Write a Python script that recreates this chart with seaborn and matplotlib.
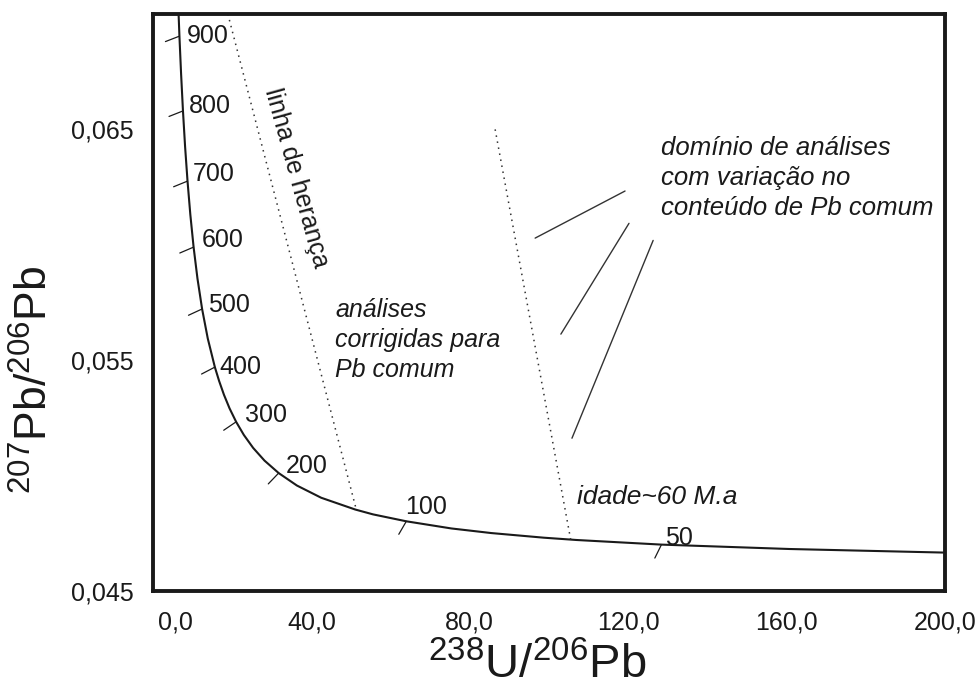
import numpy as np
import pandas as pd
import matplotlib
matplotlib.use("Agg")
import matplotlib.pyplot as plt
import matplotlib.transforms as mtrans
import seaborn as sns

# Concordia curve (Tera-Wasserburg): age (Ma), 238U/206Pb, 207Pb/206Pb
curve_age = [950, 900, 850, 800, 750, 700, 650, 600, 550, 500, 450, 400, 375,
             350, 325, 300, 275, 250, 225, 200, 175, 150, 125, 115, 100, 85,
             75, 65, 60, 50, 40, 32, 30]
curve_u238_pb206 = [6.298, 6.674, 7.095, 7.568, 8.105, 8.718, 9.426, 10.252,
                    11.228, 12.399, 13.831, 15.621, 16.695, 17.923, 19.339,
                    20.992, 22.945, 25.289, 28.154, 31.735, 36.339, 42.477,
                    51.073, 55.557, 63.970, 75.341, 85.450, 98.677, 106.94,
                    128.40, 160.66, 200.95, 214.38]
curve_pb207_pb206 = [0.07074, 0.06904, 0.06740, 0.06580, 0.06425, 0.06276,
                     0.06131, 0.05990, 0.05854, 0.05722, 0.05594, 0.05470,
                     0.05410, 0.05350, 0.05291, 0.05233, 0.05176, 0.05120,
                     0.05065, 0.05011, 0.04957, 0.04904, 0.04853, 0.04832,
                     0.04802, 0.04771, 0.04751, 0.04731, 0.04721, 0.04701,
                     0.04682, 0.04666, 0.04662]

# Labelled ages on the concordia
tick_ages = [900, 800, 700, 600, 500, 400, 300, 200, 100, 50]

# Inheritance line and ~60 Ma line (dotted)
heranca_x = [18.9, 51.3]
heranca_y = [0.0700, 0.04855]
idade_x = [86.4, 105.5]
idade_y = [0.0650, 0.0472]

# Analyses with variable common-Pb content
dominio_x = [[96.5, 119.2], [103.0, 120.2], [105.8, 126.3]]
dominio_y = [[0.06029, 0.06233], [0.05613, 0.06093], [0.05162, 0.06019]]

x_ticks = [0, 40, 80, 120, 160, 200]
x_tick_labels = ["0,0", "40,0", "80,0", "120,0", "160,0", "200,0"]
y_ticks = [0.045, 0.055, 0.065]
y_tick_labels = ["0,045", "0,055", "0,065"]

# label offsets (pixels) relative to the age point
label_offsets = {900: (7, 0), 800: (6, 5), 700: (5, 7), 600: (8, 7),
                 500: (6, 4), 400: (5, 0), 300: (9, 7), 200: (7, 7),
                 100: (-1, 14), 50: (4, 7)}

sns.set_theme(style="white")
plt.rcParams["font.family"] = ["Liberation Sans", "DejaVu Sans"]
plt.rcParams["mathtext.fontset"] = "custom"
plt.rcParams["mathtext.rm"] = "Liberation Sans"
plt.rcParams["mathtext.it"] = "Liberation Sans:italic"
plt.rcParams["mathtext.default"] = "regular"

INK = "#1a1a1a"
fig = plt.figure(figsize=(9.8, 6.89), dpi=100)
ax = fig.add_axes([153 / 980, 1 - 591 / 689, 792 / 980, 577 / 689])
ax.set_xlim(0, 200)
ax.set_ylim(0.045, 0.070)

curve = pd.DataFrame({"age": curve_age, "x": curve_u238_pb206, "y": curve_pb207_pb206})
sns.lineplot(data=curve, x="x", y="y", sort=False, estimator=None,
             color=INK, lw=1.5, ax=ax)

# age ticks and labels
disp = ax.transData
pts = disp.transform(np.column_stack([curve["x"], curve["y"]]))
ref = np.array([np.cos(np.radians(-140)), np.sin(np.radians(-140))])
for age in tick_ages:
    i = curve_age.index(age)
    p = pts[i]
    t = pts[min(i + 1, len(pts) - 1)] - pts[max(i - 1, 0)]
    t = t / np.hypot(*t)
    n = np.array([-t[1], t[0]])
    if n.sum() > 0:
        n = -n
    d = n + ref
    d = d / np.hypot(*d)
    end = disp.inverted().transform(p + d * 15)
    ax.plot([curve_u238_pb206[i], end[0]], [curve_pb207_pb206[i], end[1]],
            color=INK, lw=0.9)
    ox, oy = label_offsets[age]
    ax.annotate(str(age), (curve_u238_pb206[i], curve_pb207_pb206[i]),
                xytext=(ox, oy), textcoords="offset pixels",
                ha="left", va="center", fontsize=18, color=INK)

# dotted guide lines
ax.plot(heranca_x, heranca_y, color="#333333", lw=1.1, ls=(0, (1, 3)))
ax.plot(idade_x, idade_y, color="#333333", lw=1.1, ls=(0, (1, 3)))

for xs, ys in zip(dominio_x, dominio_y):
    ax.plot(xs, ys, color="#333333", lw=1.0)

ax.text(36.1, 0.06288, "linha de herança", rotation=-74.5,
        rotation_mode="anchor", ha="center", va="center",
        fontsize=18, color=INK)
ax.text(46.0, 0.05768, "análises\ncorrigidas para\nPb comum", style="italic",
        ha="left", va="top", fontsize=18, color=INK, linespacing=1.3)
ax.text(128.3, 0.06470, "domínio de análises\ncom variação no\nconteúdo de Pb comum",
        style="italic", ha="left", va="top", fontsize=18.5, color=INK,
        linespacing=1.32)
ax.text(107.1, 0.04907, "idade~60 M.a", style="italic", ha="left",
        va="center", fontsize=19, color=INK)

# axes
ax.set_xticks(x_ticks)
ax.set_xticklabels(x_tick_labels, fontsize=18, color=INK)
ax.set_yticks(y_ticks)
ax.set_yticklabels(y_tick_labels, fontsize=18, color=INK)
ax.tick_params(direction="out", length=8, width=0.8, color="#aaaaaa", pad=6)
first = ax.get_xticklabels()[0]
first.set_horizontalalignment("left")
first.set_transform(first.get_transform() +
                    mtrans.ScaledTranslation(5 / 100, 0, fig.dpi_scale_trans))

ax.set_xlabel(r"$^{238}$U/$^{206}$Pb", fontsize=34, color=INK)
ax.set_ylabel(r"$^{207}$Pb/$^{206}$Pb", fontsize=32, color=INK, va="center")
ax.xaxis.set_label_coords(0.485, -0.09)
ax.yaxis.set_label_coords(-0.149, 0.366)

for s in ax.spines.values():
    s.set_linewidth(2.8)
    s.set_color(INK)
    s.set_visible(True)

fig.savefig("out.png", dpi=100, facecolor="white")
